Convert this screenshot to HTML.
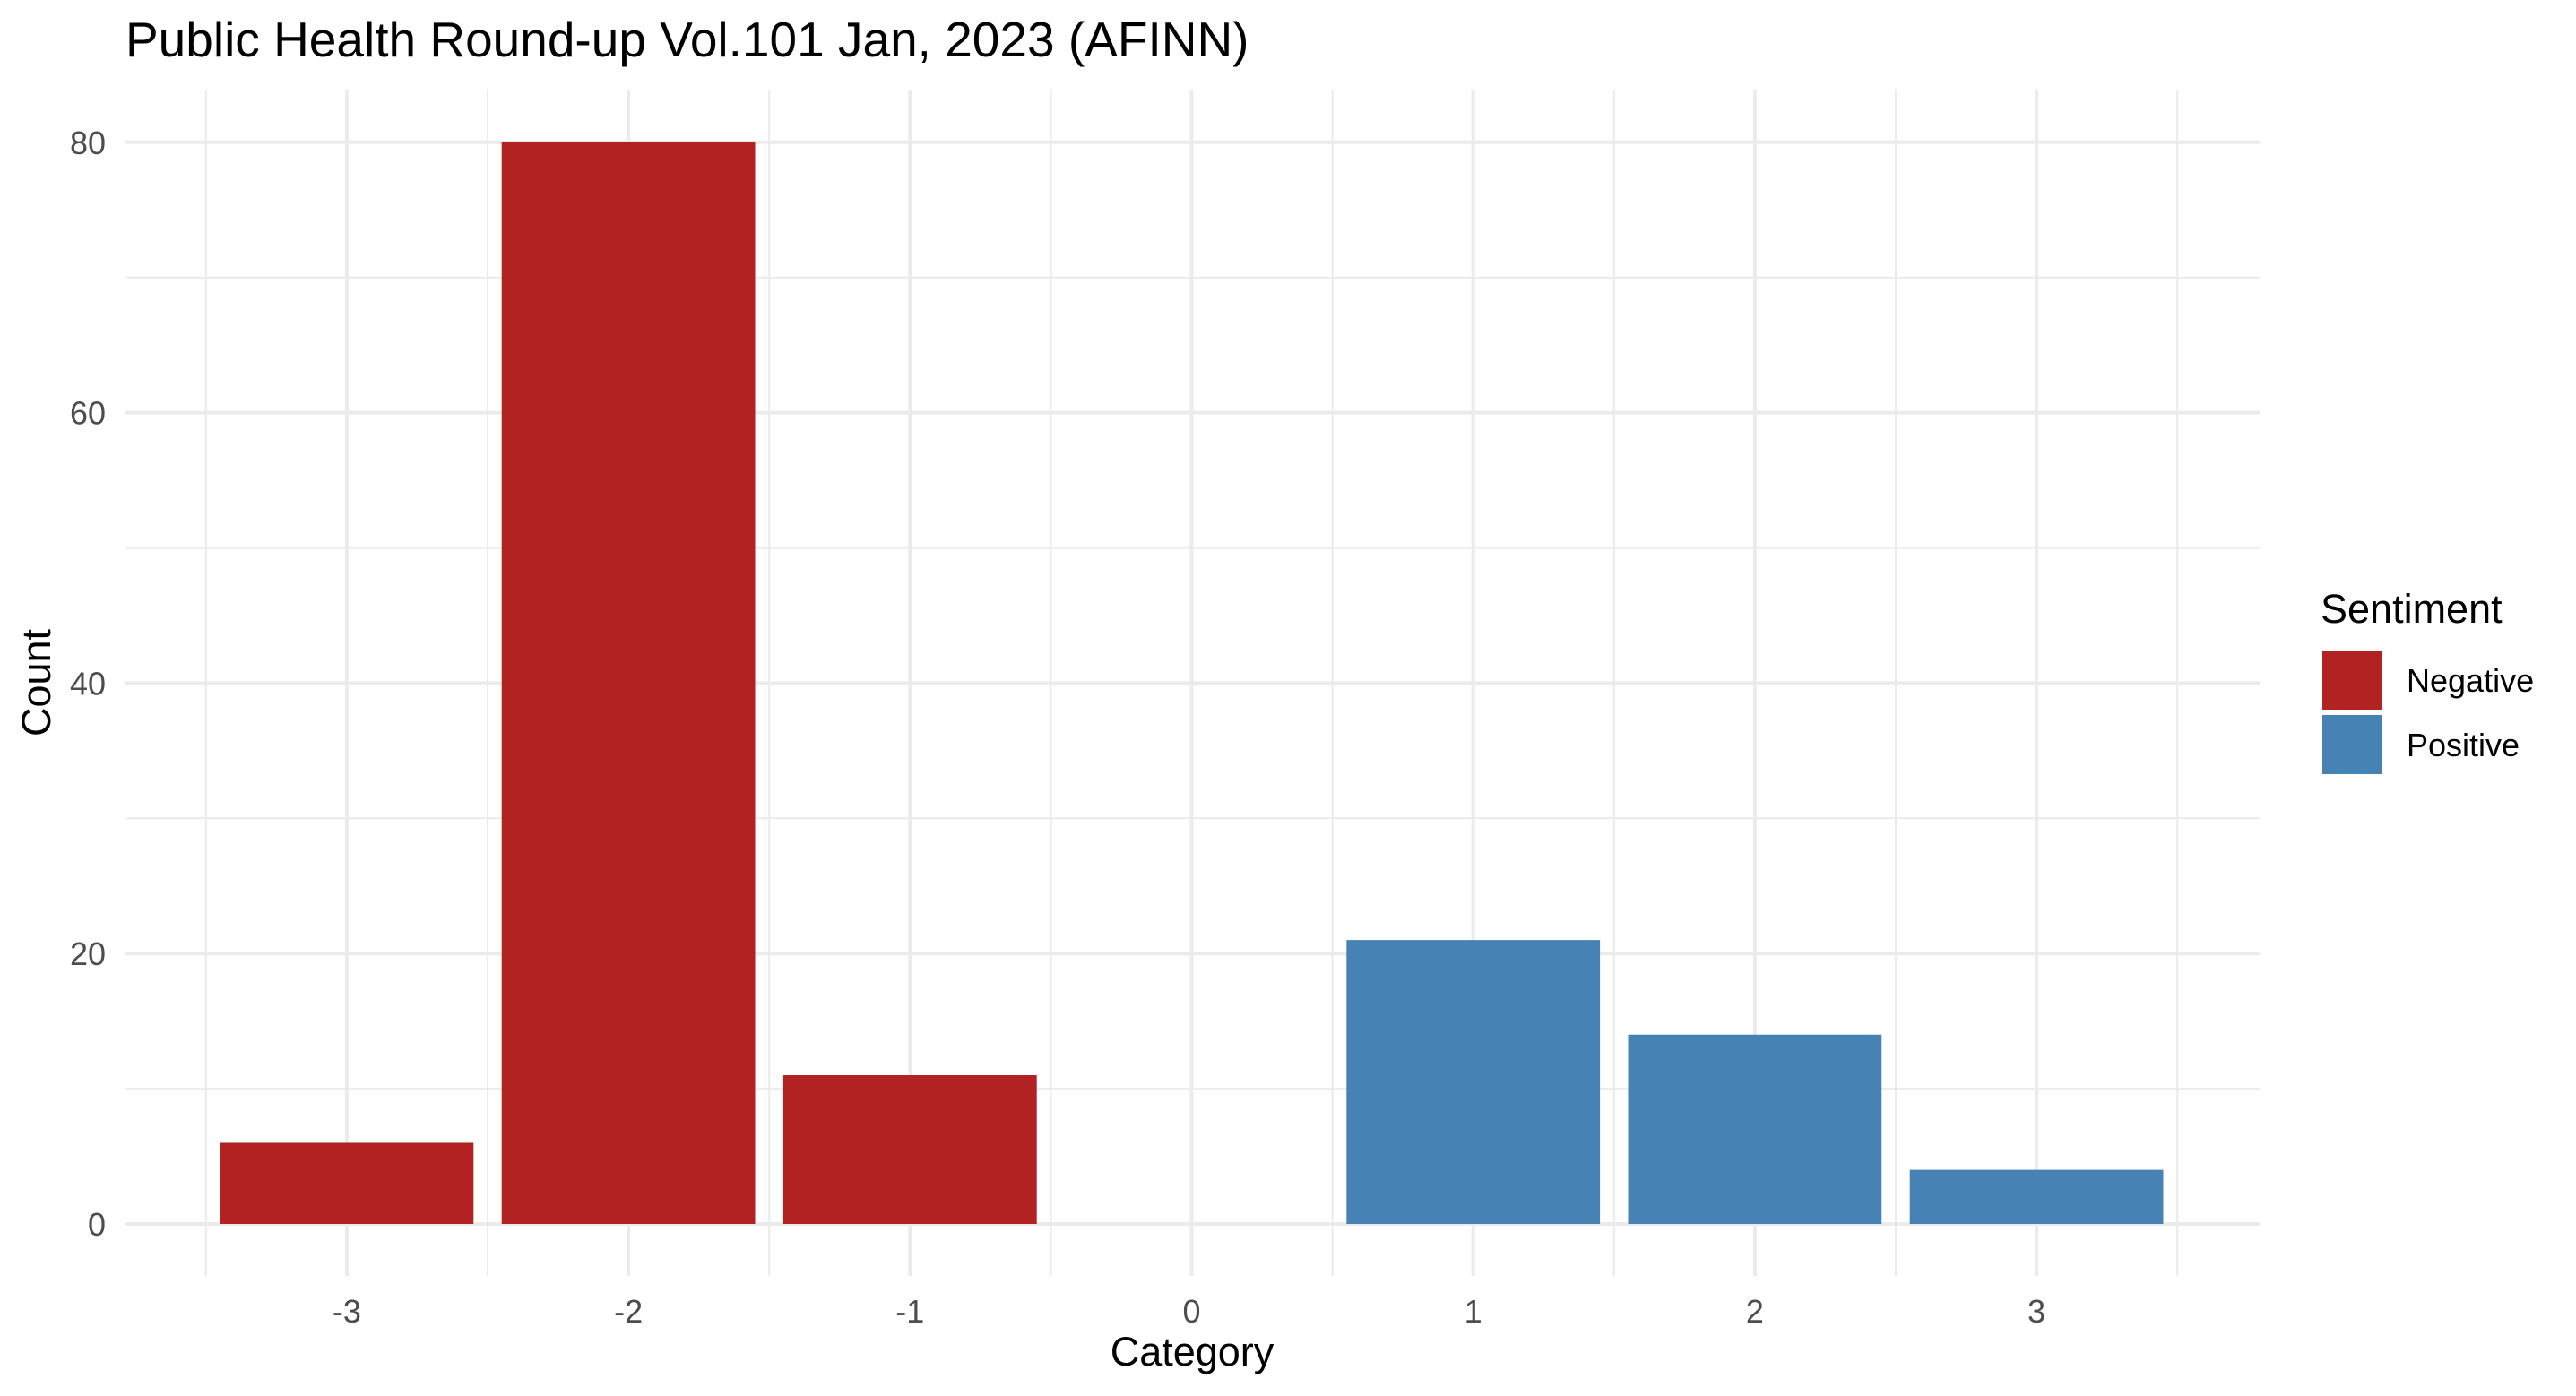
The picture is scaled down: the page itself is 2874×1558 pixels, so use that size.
<!DOCTYPE html>
<html><head><meta charset="utf-8"><style>
html,body{margin:0;padding:0;background:#fff;}
svg{display:block;font-family:"Liberation Sans",Arial,sans-serif;}
</style></head><body>
<svg id="chart" width="2874" height="1558" viewBox="0 0 2874 1558" xmlns="http://www.w3.org/2000/svg">
<rect x="0" y="0" width="2874" height="1558" fill="#fff"/>
<g id="grid"></g>
<g id="bars"></g>
<g id="axes"></g>
<text x="140" y="63" font-size="55" fill="#000">Public Health Round-up Vol.101 Jan, 2023 (AFINN)</text>
<text x="1330" y="1524" font-size="45" fill="#000" text-anchor="middle">Category</text>
<text x="0" y="0" font-size="45" fill="#000" text-anchor="middle" transform="translate(56,762) rotate(-90)">Count</text>
<g>
<text x="2589" y="695" font-size="45" fill="#000">Sentiment</text>
<rect x="2591" y="726" width="66" height="66" fill="#B22222"/>
<text x="2685" y="772" font-size="36" fill="#000">Negative</text>
<rect x="2591" y="798" width="66" height="66" fill="#4682B4"/>
<text x="2685" y="844" font-size="36" fill="#000">Positive</text>
</g>
</svg>
<script>
const categories = [-3, -2, -1, 0, 1, 2, 3];
const counts = [6, 80, 11, 0, 21, 14, 4];
const sentiments = ["Negative", "Negative", "Negative", "Negative", "Positive", "Positive", "Positive"];
const yTicks = [0, 20, 40, 60, 80];
const yMinor = [10, 30, 50, 70];
const xTicks = [-3, -2, -1, 0, 1, 2, 3];
const xMinor = [-3.5, -2.5, -1.5, -0.5, 0.5, 1.5, 2.5, 3.5];

const NS = "http://www.w3.org/2000/svg";
const panel = {left: 140, right: 2521, top: 100, bottom: 1424};
function xs(v){ return 1329.5 + v * 314.2; }
function ys(v){ return 1366 - v * 15.09; }
const colors = {Negative: "#B22222", Positive: "#4682B4"};
function mk(tag, attrs, parent){
  const e = document.createElementNS(NS, tag);
  for (const k in attrs) e.setAttribute(k, attrs[k]);
  parent.appendChild(e);
  return e;
}
const grid = document.getElementById('grid');
const bars = document.getElementById('bars');
const axes = document.getElementById('axes');

yMinor.forEach(v => {
  const l = mk('line', {x1: panel.left, x2: panel.right, y1: ys(v), y2: ys(v), stroke: "#ebebeb", "stroke-width": 2}, grid);
  
  
});
xMinor.forEach(v => {
  const l = mk('line', {x1: xs(v), x2: xs(v), y1: panel.top, y2: panel.bottom, stroke: "#ebebeb", "stroke-width": 2}, grid);
  
  
});
yTicks.forEach(v => {
  const l = mk('line', {x1: panel.left, x2: panel.right, y1: ys(v), y2: ys(v), stroke: "#ebebeb", "stroke-width": 4}, grid);
  
  
  const t = mk('text', {x: 118, y: ys(v) + 13, "font-size": 36, fill: "#4d4d4d", "text-anchor": "end"}, axes);
  
  
  t.textContent = v;
});
xTicks.forEach(v => {
  const l = mk('line', {x1: xs(v), x2: xs(v), y1: panel.top, y2: panel.bottom, stroke: "#ebebeb", "stroke-width": 4}, grid);
  
  
  const t = mk('text', {x: xs(v), y: 1476, "font-size": 36, fill: "#4d4d4d", "text-anchor": "middle"}, axes);
  
  
  t.textContent = v;
});
categories.forEach((c, i) => {
  if (counts[i] <= 0) return;
  const x0 = xs(c - 0.45), x1 = xs(c + 0.45);
  const r = mk('rect', {x: x0, y: ys(counts[i]), width: x1 - x0, height: ys(0) - ys(counts[i]), fill: colors[sentiments[i]]}, bars);
  
  
});
</script>
</body></html>
